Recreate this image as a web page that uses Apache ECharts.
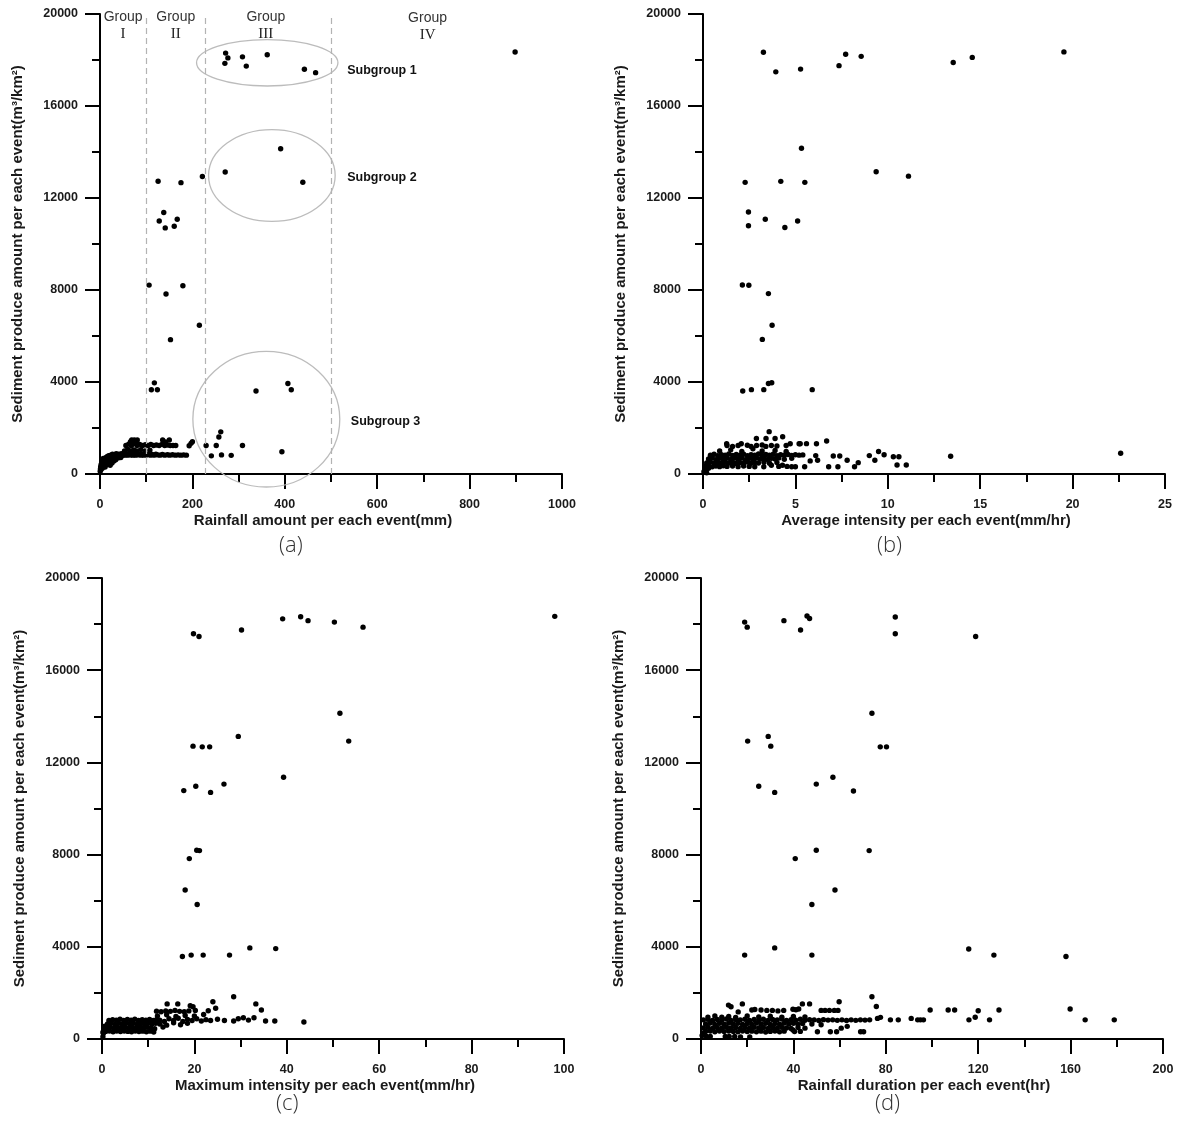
<!DOCTYPE html>
<html><head><meta charset="utf-8">
<script src="https://cdn.jsdelivr.net/npm/echarts@6/dist/echarts.min.js"></script>
<style>html,body{margin:0;padding:0;background:#fff}#c{width:1179px;height:1126px}</style>
</head><body><div id="c"></div>
<script>
// ---------- DATA ----------
const yTitle = 'Sediment produce amount per each event(m³/km²)';
const xTitles = ['Rainfall amount per each event(mm)','Average intensity per each event(mm/hr)','Maximum intensity per each event(mm/hr)','Rainfall duration per each event(hr)'];
const xMax = [1000, 25, 100, 200];
const xStep = [200, 5, 20, 40];
const yMax = 20000, yStep = 4000;
const panelLabels = ['(a)','(b)','(c)','(d)'];

// panel (a): rainfall amount (mm) vs sediment
const rainfallPts = [
[271.9,18301],[270.3,17854],[276.8,18092],[308.4,18137],[316.6,17735],[362,18226],[442.4,17600],[466.7,17451],[898.5,18346],
[271,13130],[391,14143],[439,12683],[221.6,12936],
[125.8,12727],[175.3,12668],[138,11371],[128.2,10999],[141.2,10700],[167.2,11073],[160.7,10775],
[106.3,8212],[179.4,8182],[142.9,7824],[215.1,6468],[152.6,5842],
[117.7,3964],[111.2,3666],[124.2,3666],[337.7,3607],[406.7,3934],[414,3666],
[393.7,969],[261.4,1833],[257.3,1610],[229.7,1237],[251.6,1237],[241,790],[263,830],[284,810],[308.4,1237],
[0.5,120],[1,220],[1.5,320],[2,180],[2.5,420],[3,300],[3.5,520],[4,380],[5,250],[5,600],[6,450],[7,330],[7,680],[8,540],
[9,420],[10,620],[11,300],[12,500],[13,720],[14,400],[15,580],[16,760],[17,460],[18,640],[19,800],[20,540],[21,700],[22,380],[23,820],[24,600],[25,740],[26,480],[27,860],[28,660],[29,780],[30,560],[31,840],[32,700],[33,820],[34,620],[35,880],[36,760],[38,820],[39,700],[40,860],[42,780],[43,840],[45,720],[46,880],[48,800],[50,860],
[52,820],[54,880],[56,830],[58,870],[60,820],[62,860],[64,900],[66,830],[68,870],[70,820],[72,880],[74,840],[77,820],[80,870],[83,830],[86,860],[89,820],[92,850],[95,820],[98,870],[101,830],[105,860],[109,820],[113,850],[117,820],[121,860],[125,830],[130,820],[135,850],[140,820],[146,840],[151,820],[157,840],[163,820],[169,830],[175,820],[181,830],[187,820],
[53,1000],[60,1080],[66,1000],[73,1050],[79,1000],[88,1060],[97,1000],[108,1040],
[56,1237],[62,1300],[68,1237],[74,1330],[80,1237],[86,1290],[92,1237],[98,1270],[104,1237],[110,1290],[116,1237],[122,1260],[128,1237],[134,1290],[140,1237],[146,1260],[152,1237],[158,1237],[164,1237],
[66,1400],[68.6,1478],[74.3,1478],[80.7,1478],[78,1390],[135.6,1478],[150,1478],[142,1390],[193,1230],[197,1333],[200,1404]
];

// panel (b): average intensity (mm/hr) vs sediment
const avgIntensityPts = [
[3.27,18338],[3.94,17485],[5.28,17605],[7.36,17754],[7.72,18249],[8.56,18159],[13.54,17889],[14.57,18114],[19.53,18353],
[5.33,14162],[9.37,13144],[11.12,12949],[2.28,12680],[4.21,12725],[5.51,12680],
[2.46,11392],[3.37,11078],[2.46,10793],[4.43,10719],[5.12,11003],
[2.13,8219],[2.48,8204],[3.54,7844],[3.74,6467],[3.21,5853],
[2.15,3608],[2.62,3668],[3.29,3668],[3.54,3937],[3.72,3967],[5.91,3668],
[3.58,1841],[1.28,1317],[2.07,1317],[2.89,1542],[3.41,1542],[3.9,1542],[4.31,1617],[4.72,1317],[5.26,1317],[6.14,1317],[6.69,1437],
[5.8,570],[6.1,800],[6.2,600],[6.8,315],[7.05,783],[7.4,783],[7.3,315],[7.8,600],[8.2,315],[8.4,494],[9.0,800],[9.3,600],[9.5,980],[9.8,840],[10.3,750],[10.6,750],[10.5,390],[11.0,390],[13.4,770],[22.6,900],
[3.29,315],[3.7,380],[4.1,330],[4.3,380],[4.8,315],[5.0,315],[5.5,315],[4.55,330],
[0.4,820],[0.6,860],[0.8,800],[1.0,840],[1.2,820],[1.4,870],[1.6,810],[1.8,850],[2.0,820],[2.2,860],[2.4,800],[2.6,840],[2.8,820],[3.0,870],[3.2,810],[3.4,850],[3.6,820],[3.8,860],[4.0,800],[4.2,840],[4.4,820],[4.6,850],[4.8,810],[5.0,840],[5.2,820],[5.4,830],
[0.3,650],[0.5,700],[0.7,620],[0.9,680],[1.1,640],[1.3,700],[1.5,630],[1.7,690],[1.9,650],[2.1,700],[2.3,620],[2.5,680],[2.7,640],[2.9,700],[3.1,650],[3.3,690],[3.5,630],[3.7,680],[3.9,650],[4.1,700],[4.4,640],[4.8,680],
[0.2,480],[0.4,520],[0.6,460],[0.8,500],[1.0,470],[1.2,530],[1.4,480],[1.6,510],[1.8,460],[2.0,500],[2.2,480],[2.4,520],[2.6,470],[2.8,500],[3.0,480],[3.3,510],[3.6,470],[4.0,500],
[0.1,330],[0.3,360],[0.5,310],[0.7,350],[0.9,320],[1.1,360],[1.3,330],[1.6,350],[1.9,320],[2.2,350],[2.5,330],[2.8,310],
[0.05,100],[0.1,200],[0.2,50],[0.15,150],[0.3,250],
[0.9,1000],[1.5,1050],[2.1,980],[2.7,1100],[3.2,1000],[3.9,1020],[4.5,980],
[1.3,1240],[1.6,1200],[1.9,1240],[2.4,1250],[2.6,1200],[2.9,1240],[3.2,1260],[3.4,1200],[3.7,1240],[4.0,1220],[4.5,1240],[5.2,1317],[5.6,1320]
];

// panel (c): maximum intensity (mm/hr) vs sediment
const maxIntensityPts = [
[98,18337],[39.1,18227],[43,18322],[44.6,18149],[50.3,18086],[56.5,17867],[30.2,17741],[19.8,17584],[21,17459],
[51.5,14133],[29.5,13129],[53.4,12925],[19.7,12706],[21.7,12675],[23.3,12675],[39.3,11357],[26.4,11059],[20.3,10965],[17.7,10776],[23.5,10698],
[20.5,8188],[21.1,8173],[18.9,7827],[18,6463],[20.6,5835],
[32,3953],[37.6,3922],[17.4,3576],[19.3,3639],[21.9,3639],[27.6,3639],
[14.1,1522],[16.4,1522],[19.1,1443],[19.7,1400],[24,1616],[28.5,1835],[33.3,1522],[34.5,1255],[24.6,1333],[23,1224],
[1.5,800],[2.3,840],[3.1,820],[3.9,860],[4.7,810],[5.5,850],[6.3,820],[7.1,860],[7.9,800],[8.7,840],[9.5,820],[10.3,850],[11.1,810],[11.8,840],
[1.2,650],[2.0,690],[2.8,630],[3.6,680],[4.4,640],[5.2,690],[6.0,650],[6.8,680],[7.6,630],[8.4,670],[9.2,640],[10.0,690],[10.8,650],[11.6,680],
[1.0,480],[1.8,510],[2.6,460],[3.4,500],[4.2,470],[5.0,510],[5.8,480],[6.6,500],[7.4,460],[8.2,500],[9.0,470],[9.8,510],[10.6,480],[11.4,450],
[0.8,330],[1.6,350],[2.4,310],[3.2,350],[4.0,320],[4.8,350],[5.6,330],[6.4,310],[7.2,350],[8.0,320],[8.8,340],[9.6,310],[10.4,340],[11.2,300],
[0.2,100],[0.3,250],[0.4,400],[0.5,500],[0.2,300],[0.6,560],
[12.5,820],[13.5,760],[14.5,880],[15.5,800],[16.5,900],[17.5,760],[18.5,850],[19.5,800],[20.5,880],[21.5,780],[22.5,840],[23.5,800],[25,860],[26.5,800],[28.5,780],[29.5,880],[30.6,920],[31.7,820],[32.9,920],[35.4,780],[37.4,780],[43.7,740],
[12.5,650],[14,600],[15.5,700],[17,620],[18.5,680],[13.2,520],
[11.8,1208],[12.8,1180],[13.8,1220],[14.8,1200],[15.8,1240],[16.8,1200],[17.8,1180],[18.8,1220],[20.2,1240],
[12,1000],[14,1050],[16,980],[18,1020],[20,1000],[22,1060]
];

// panel (d): rainfall duration (hr) vs sediment
const durationPts = [
[18.9,18086],[20,17867],[35.9,18149],[43.1,17741],[45.9,18353],[47,18243],[84.1,18306],[84.1,17584],[118.9,17459],
[74,14133],[29.1,13129],[20.2,12925],[30.2,12706],[77.6,12675],[80.3,12675],[57.1,11357],[49.9,11059],[25,10965],[31.9,10698],[66,10761],
[49.9,8188],[72.8,8173],[40.8,7827],[58,6463],[48,5835],
[31.9,3953],[115.9,3906],[18.9,3639],[48,3639],[126.8,3639],[158,3576],
[74,1835],[75.9,1412],[59.8,1616],[43.9,1522],[47,1522],[17.9,1522],[11.9,1470],[13,1400],[16.1,1176],
[22,1255],[23.3,1280],[26,1255],[28.5,1240],[30.9,1240],[33.3,1220],[35.8,1240],[39.8,1290],[41.1,1270],[42.3,1300],[52,1240],[53.7,1240],[55.6,1240],[57.7,1240],[59.3,1240],[99.2,1255],[107,1255],[109.8,1255],[120,1224],[129,1255],[159.8,1302],[118.7,941],
[1,830],[3,860],[5,800],[7,850],[9,820],[11,870],[13,810],[15,850],[17,830],[19,860],[21,800],[23,850],[25,820],[27,860],[29,810],[31,850],[33,830],[35,870],[37,800],[39,840],[41,820],[43,860],[45,810],[47,840],[49,830],[51,800],[53,840],[55,820],[57,830],[59,810],[61,830],[63,800],[65,830],[67,810],[69,830],[71,820],[73,830],
[2,650],[4,690],[6,630],[8,680],[10,640],[12,690],[14,650],[16,680],[18,630],[20,670],[22,640],[24,690],[26,650],[28,680],[30,630],[32,670],[34,640],[36,690],[38,650],[40,680],[42,640],[44,670],[48,650],[52,620],
[1,480],[3,510],[5,460],[7,500],[9,470],[11,510],[13,480],[15,500],[17,460],[19,500],[21,470],[23,510],[25,480],[27,500],[29,460],[31,500],[33,470],[35,510],[37,480],[39,460],[42,500],[45,470],
[2,330],[4,350],[6,310],[8,350],[10,320],[12,350],[14,330],[16,310],[18,350],[20,320],[22,340],[24,310],[26,340],[28,300],[30,330],[32,350],[34,310],[36,340],[40.5,320],[43,330],[50.4,314],[56,314],[58.7,314],[69.1,314],[70.4,314],[39.8,392],[60.7,470],[63.3,549],
[3,950],[6,1000],[9,950],[12,980],[15,940],[20,1000],[25,960],[30,990],[35,950],[40,980],[45,960],
[2.4,110],[4,110],[10.5,110],[12.2,110],[14.6,110],[17.1,90],[21.1,90],[0.5,150],[1,250],
[76.4,894],[77.7,940],[82,830],[85.4,830],[91,894],[93.8,830],[95,830],[96.3,830],[116,830],[124.9,830],[166.3,830],[178.9,830]
];

// panel (a) annotations (data coordinates)
const groupDividers = [100, 228, 500];
const groupLabels = [['I',50,19520],['II',164,19520],['III',359,19520],['IV',709,19460]];
const subgroupEllipses = [[362,17876,153,1006],[372,12980,137,1997],[360,2385,159,2950]]; // cx, cy, rx, ry
const subgroupLabels = [['Subgroup 1',535,17520],['Subgroup 2',535,12870],['Subgroup 3',543,2300]];

// ---------- LAYOUT ----------
const grids = [
  {left:100, top:14, width:462, height:460},
  {left:703, top:14, width:462, height:460},
  {left:102, top:578, width:462, height:461},
  {left:701, top:578, width:462, height:461}
];
const labelPos = [[295,550],[893,550],[292,1108],[891,1108]];

const axisFont = {fontFamily:'Liberation Sans, Arial, sans-serif', fontWeight:'bold', fontSize:12.5, color:'#1a1a1a'};
const nameFont = {fontFamily:'Liberation Sans, Arial, sans-serif', fontWeight:'bold', fontSize:15, color:'#1a1a1a'};
const plain = v => String(v);
const common = {
  axisLine:{show:true, onZero:false, lineStyle:{color:'#000', width:2}},
  axisTick:{show:true, inside:false, length:15, lineStyle:{color:'#000', width:2}},
  minorTick:{show:true, splitNumber:2, length:8, lineStyle:{color:'#000', width:2}},
  splitLine:{show:false}, minorSplitLine:{show:false}
};

const xAxes = xMax.map((m,i)=>Object.assign({}, common, {
  type:'value', gridIndex:i, min:0, max:m, interval:xStep[i],
  name:xTitles[i], nameLocation:'middle', nameGap:39,
  nameTextStyle:Object.assign({padding:[0,16,0,0]}, nameFont),
  axisLabel:Object.assign({margin:24, formatter:plain}, axisFont)
}));
const yAxes = xMax.map((m,i)=>Object.assign({}, common, {
  type:'value', gridIndex:i, min:0, max:yMax, interval:yStep,
  name:yTitle, nameLocation:'middle', nameGap:75, nameTextStyle:nameFont,
  axisLabel:Object.assign({margin:22, formatter:plain}, axisFont)
}));

const ptSets = [rainfallPts, avgIntensityPts, maxIntensityPts, durationPts];
const series = ptSets.map((pts,i)=>({
  type:'scatter', xAxisIndex:i, yAxisIndex:i, data:pts, symbol:'circle', symbolSize:5.4,
  itemStyle:{color:'#000', opacity:1}, silent:true, z:3
}));
series[0].markLine = {
  silent:true, symbol:['none','none'], label:{show:false},
  lineStyle:{type:[6,4], color:'#b3b3b3', width:1.2},
  data: groupDividers.map(v=>({xAxis:v}))
};
series.push({
  type:'custom', xAxisIndex:0, yAxisIndex:0, silent:true, clip:false, z:2,
  data: subgroupEllipses,
  renderItem:(params, api)=>{
    const c = api.coord([api.value(0), api.value(1)]);
    const s = api.size([api.value(2), api.value(3)]);
    return {type:'ellipse', shape:{cx:c[0], cy:c[1], rx:s[0], ry:s[1]},
      style:{fill:null, stroke:'#bcbcbc', lineWidth:1.3}};
  }
});
series.push({
  type:'custom', xAxisIndex:0, yAxisIndex:0, silent:true, clip:false, z:4,
  data: groupLabels.map(g=>[g[1], g[2]]),
  renderItem:(params, api)=>{
    const p = api.coord([api.value(0), api.value(1)]);
    return {type:'group', children:[
      {type:'text', x:p[0], y:p[1]-8, style:{text:'Group', font:'14px "Liberation Sans", Arial, sans-serif', fill:'#333', align:'center', verticalAlign:'middle'}},
      {type:'text', x:p[0], y:p[1]+9, style:{text:groupLabels[params.dataIndex][0], font:'15px "Liberation Serif", "Times New Roman", serif', fill:'#222', align:'center', verticalAlign:'middle'}}
    ]};
  }
});
series.push({
  type:'custom', xAxisIndex:0, yAxisIndex:0, silent:true, clip:false, z:4,
  data: subgroupLabels.map(g=>[g[1], g[2]]),
  renderItem:(params, api)=>{
    const p = api.coord([api.value(0), api.value(1)]);
    return {type:'text', x:p[0], y:p[1], style:{text:subgroupLabels[params.dataIndex][0], font:'bold 12.5px "Liberation Sans", Arial, sans-serif', fill:'#111', align:'left', verticalAlign:'middle'}};
  }
});

const chart = echarts.init(document.getElementById('c'), null, {renderer:'canvas'});
chart.setOption({
  backgroundColor:'#fff', animation:false,
  grid: grids.map(g=>Object.assign({containLabel:false}, g)),
  xAxis: xAxes, yAxis: yAxes, series: series,
  graphic: panelLabels.map((t,i)=>({
    type:'text', left:labelPos[i][0]-16, top:labelPos[i][1]-15,
    style:{text:t, font:'300 22px "Open Sans", "Noto Sans", sans-serif', fill:'#333'}
  }))
});
</script></body></html>
